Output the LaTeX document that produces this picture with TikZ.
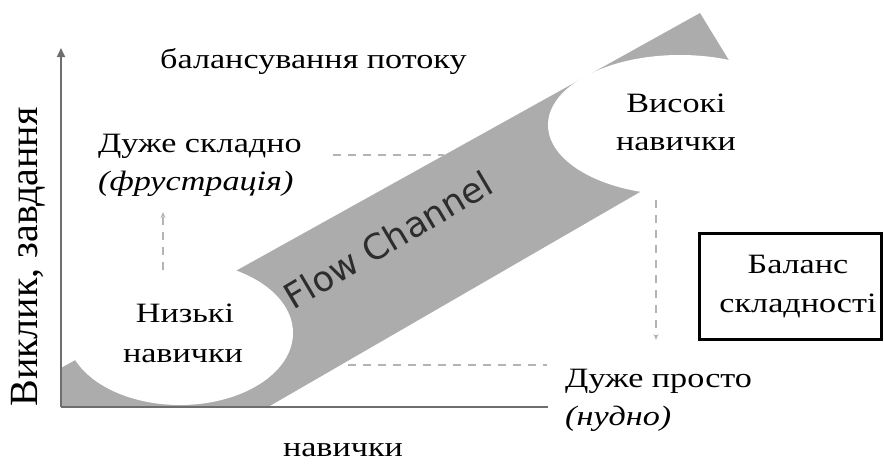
\documentclass[tikz,border=0pt]{standalone}
\usepackage{fontspec}
\setmainfont{Liberation Serif}[FakeStretch=1.22]
\newfontfamily\plainserif{Liberation Serif}
\setsansfont{DejaVu Sans}
\usetikzlibrary{arrows.meta}
\definecolor{bandgrey}{RGB}{172,172,172}
\definecolor{dashgrey}{RGB}{180,180,180}
\definecolor{axisgrey}{RGB}{110,110,110}
\definecolor{flowtext}{RGB}{45,45,45}
\begin{document}
\begin{tikzpicture}[x=1pt,y=-1pt,
  lbl/.style={font=\fontsize{28}{38}\selectfont, inner sep=0pt, align=center},
  dashline/.style={draw=dashgrey, line width=2pt, dash pattern=on 8pt off 7pt},
  dashtip/.style={-{Stealth[length=6pt,width=5pt]}}]
\useasboundingbox (0,0) rectangle (884,464);
% named points
\coordinate (uh1) at (333,155);
\coordinate (uh2) at (444,155);
\coordinate (lv1) at (163,270);
\coordinate (lv2) at (163,212);
\coordinate (rv1) at (656,200);
\coordinate (rv2) at (656,340);
\coordinate (lh1) at (348,365);
\coordinate (lh2) at (547,365);
\coordinate (org) at (61,407);
\coordinate (ytip) at (61,48);
\coordinate (xend) at (548,407);
% upper dashed line (behind band)
\draw[dashline] (uh1) -- (uh2);
% flow channel band
\fill[bandgrey] (61,407) -- (61,368) -- (700,13) -- (730,62) -- (640,192) -- (268,407) -- cycle;
\fill[white] (180,333) ellipse [x radius=113pt, y radius=72pt];
\fill[white] (680,125) ellipse [x radius=132pt, y radius=70pt];
% dashed arrows
\draw[dashline, dashtip] (lv1) -- (lv2);
\draw[dashline, dashtip] (rv1) -- (rv2);
\draw[dashline] (lh1) -- (lh2);
% axes
\draw[draw=axisgrey, line width=2.5pt] (org) -- (xend);
\draw[draw=axisgrey, line width=2pt, -{Triangle[length=9pt,width=8pt]}] (org) -- (ytip);
% texts
\node[lbl, anchor=base west] (top) at (160,68) {балансування потоку};
\node[lbl, anchor=base west] (hard) at (98,152) {Дуже складно};
\node[lbl, anchor=base west] (frus) at (98,190) {\itshape (фрустрація)};
\node[lbl, anchor=base] (low1) at (185,322) {Низькі};
\node[lbl, anchor=base] (low2) at (183,362) {навички};
\node[lbl, anchor=base] (high1) at (676,112) {Високі};
\node[lbl, anchor=base] (high2) at (676,150) {навички};
\node[lbl, anchor=base west] (easy) at (565,387) {Дуже просто};
\node[lbl, anchor=base west] (bored) at (565,425) {\itshape (нудно)};
\node[lbl, anchor=base] (xlab) at (343,456) {навички};
\node[lbl, font=\plainserif\fontsize{40}{44}\selectfont, anchor=base, rotate=90] (ylab) at (37,257) {Виклик, завдання};
\node[font=\sffamily\fontsize{35}{40}\selectfont, text=flowtext, rotate=30.6, inner sep=0pt] (flow) at (388,240) {Flow Channel};
% balance box
\node[draw=black, line width=3pt, minimum width=182pt, minimum height=106pt, inner sep=0pt] (box) at (790,286) {};
\node[lbl, anchor=base] (bal1) at (798,273) {Баланс};
\node[lbl, anchor=base] (bal2) at (798,312) {складності};
\end{tikzpicture}
\end{document}
